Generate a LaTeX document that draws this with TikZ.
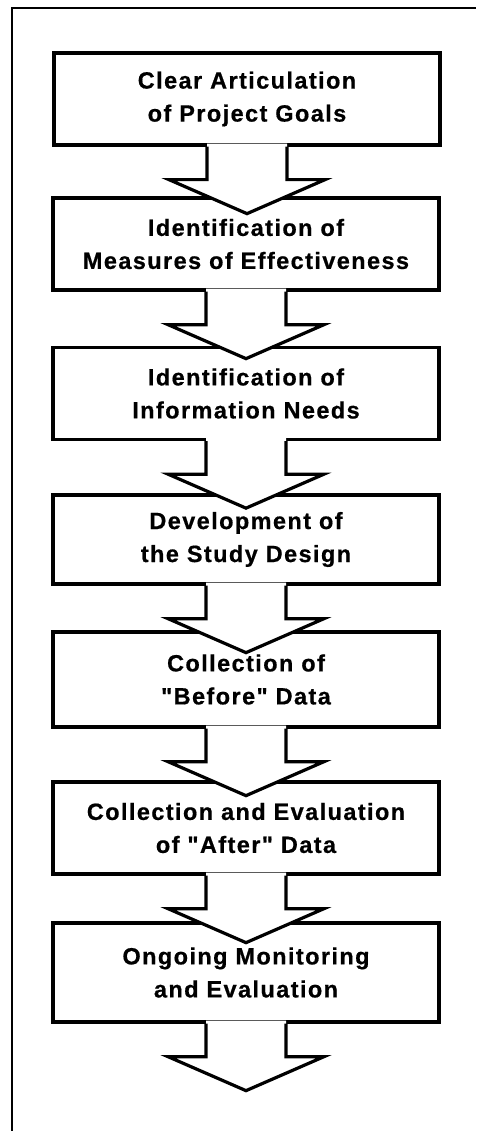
\documentclass[tikz,border=0pt]{standalone}
\usepackage{fontspec}
\setmainfont{Liberation Sans}
\newfontfamily\boxfont[LetterSpace=6,BoldFeatures={FakeBold=0.6}]{Liberation Sans}
\tikzset{
  stepbox/.style={draw, line width=3.3pt, fill=white, minimum width=386pt,
    minimum height=92pt, inner sep=0pt, align=center,
    font=\boxfont\bfseries\fontsize{23.5}{33}\selectfont},
  arrowline/.style={line width=3.2pt, line join=miter},
  frameline/.style={line width=1.8pt}
}
\newcommand\stagearrow[1]{%
  \fill[white] ([xshift=-40pt,yshift=3pt]#1.south) -- ++(0,36) -- ++(-38,0)
    -- ++(78,34) -- ++(78,-34) -- ++(-38,0) -- ++(0,-36) -- cycle;
  \draw[arrowline] ([xshift=-40pt]#1.south) -- ++(0,33) -- ++(-38,0)
    -- ++(78,34) -- ++(78,-34) -- ++(-38,0) -- ++(0,-33);
}
\begin{document}
\begin{tikzpicture}[x=1pt,y=-1pt]
\useasboundingbox (0,0) rectangle (476,1131);
\draw[frameline] (12,1131) -- (12,8) -- (476,8);
\node[stepbox] (s1) at (247,99) {Clear Articulation\\of Project Goals};
\node[stepbox] (s2) at (246,244) {Identification of\\Measures of Effectiveness};
\node[stepbox] (s3) at (246,393.5) {Identification of\\Information Needs};
\node[stepbox, minimum height=89pt] (s4) at (246,539.5) {Development of\\the Study Design};
\node[stepbox, minimum height=95pt] (s5) at (246,679.5) {Collection of\\"Before" Data};
\node[stepbox] (s6) at (246,828) {Collection and Evaluation\\of "After" Data};
\node[stepbox, minimum height=99pt] (s7) at (246,972.5) {Ongoing Monitoring\\and Evaluation};
\stagearrow{s1}
\stagearrow{s2}
\stagearrow{s3}
\stagearrow{s4}
\stagearrow{s5}
\stagearrow{s6}
\stagearrow{s7}
\end{tikzpicture}
\end{document}
